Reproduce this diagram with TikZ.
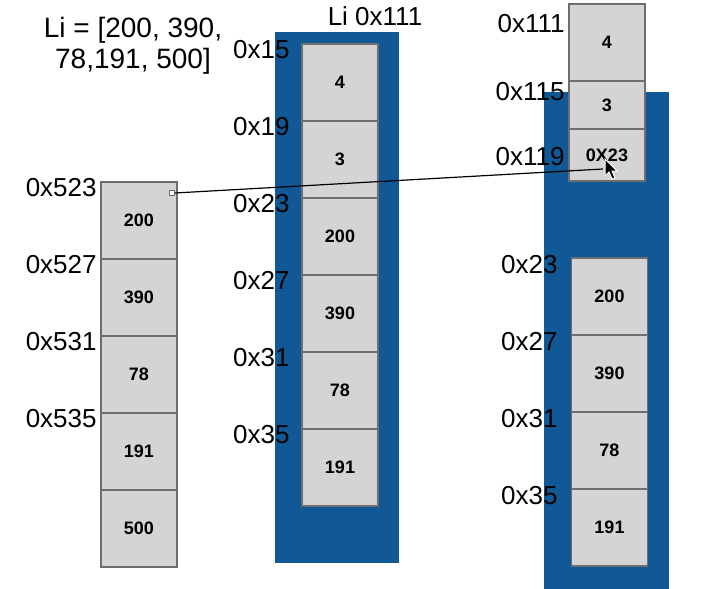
\documentclass[tikz,border=0pt]{standalone}
\usepackage{fontspec}
\setmainfont{Liberation Sans}
\definecolor{memblue}{RGB}{16,89,150}
\definecolor{cellgray}{RGB}{212,212,212}
\definecolor{celledge}{RGB}{110,110,110}
\begin{document}
\begin{tikzpicture}[x=0.5pt,y=-0.5pt,
  cell/.style={draw=celledge,fill=cellgray,line width=0.6pt,minimum width=38pt,
    minimum height=38.5pt,inner sep=0pt,outer sep=0pt,font=\fontsize{9}{10}\selectfont\bfseries},
  addr/.style={anchor=east,inner sep=0pt,font=\fontsize{13}{15}\selectfont}]
  \useasboundingbox (0,0) rectangle (714,589);
  \fill[memblue] (275,32) rectangle (399,563);
  \fill[memblue] (544,92) rectangle (669,589);
  \node[align=center,font=\fontsize{14}{15.5}\selectfont] (title) at (133,46) {Li = [200, 390,\\78,191, 500]};
  \node[font=\fontsize{13}{15}\selectfont] (name) at (375,16) {Li 0x111};
  \foreach \v [count=\i] in {200,390,78,191,500}
    \node[cell] (l\i) at (139,{143.5+77*\i}) {\v};
  \foreach \a [count=\i] in {523,527,531,535}
    \node[addr] (la\i) at (97,{182+77*(\i-1)+6}) {0x\a};
  \foreach \v [count=\i] in {4,3,200,390,78,191}
    \node[cell] (m\i) at (340,{5.5+77*\i}) {\v};
  \foreach \a [count=\i] in {15,19,23,27,31,35}
    \node[addr] (ma\i) at (290,{44+77*(\i-1)+6}) {0x\a};
  \node[cell] (r1) at (607,42.5) {4};
  \node[cell,minimum height=24pt] (r2) at (607,105) {3};
  \node[cell,minimum height=26pt] (r3) at (607,155) {0X23};
  \node[addr] (ra1) at (565,24) {0x111};
  \node[addr] (ra2) at (565,92) {0x115};
  \node[addr] (ra3) at (565,157) {0x119};
  \foreach \v [count=\i] in {200,390,78,191}
    \node[cell] (s\i) at (609.5,{219.5+77*\i}) {\v};
  \foreach \a [count=\i] in {23,27,31,35}
    \node[addr] (sa\i) at (558,{258+77*(\i-1)+7}) {0x\a};
  \node[draw=celledge,fill=white,line width=0.5pt,minimum size=2.5pt,inner sep=0pt] (ptr) at (172,193) {};
  \coordinate (tip) at (603,169);
  \draw[line width=0.6pt] (ptr.east) -- (tip);
  \draw[fill=black,draw=white,line width=0.5pt,shift={(605,159)}]
    (0,0) -- (0,17) -- (4,13) -- (7,20) -- (10,19) -- (7,12) -- (12,12) -- cycle;
\end{tikzpicture}
\end{document}
